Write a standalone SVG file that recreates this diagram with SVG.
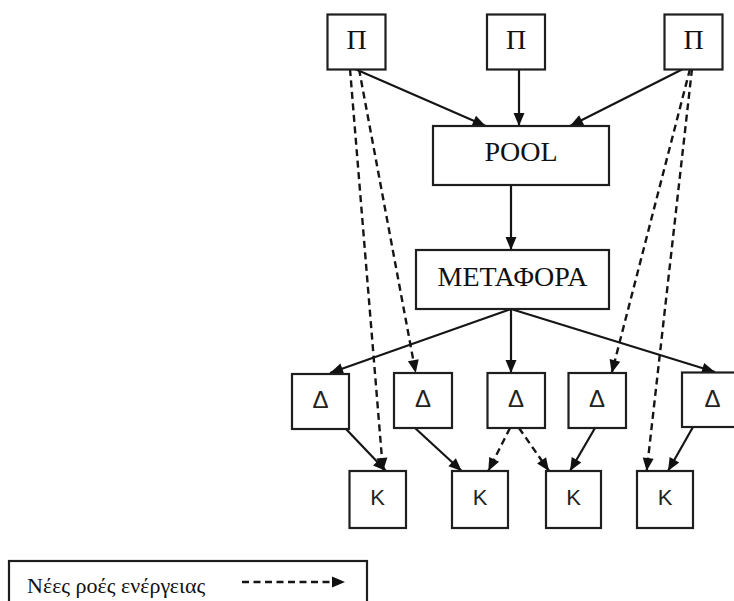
<svg xmlns="http://www.w3.org/2000/svg" width="734" height="601" viewBox="0 0 734 601">
  <style>
    .box { fill: #ffffff; stroke: #1e1e1e; stroke-width: 2.2; }
    .serif { font-family: "Liberation Serif", "Times New Roman", serif; fill: #111; text-anchor: middle; }
    .sans { font-family: "Liberation Sans", Arial, sans-serif; fill: #222; text-anchor: middle; }
    .flow { fill: none; stroke: #151515; stroke-width: 2.2; marker-end: url(#head); }
    .dash { stroke-dasharray: 7 4.5; stroke-width: 2.4; }
  </style>
  <defs>
    <marker id="head" markerUnits="userSpaceOnUse" markerWidth="14" markerHeight="12" refX="13" refY="5.5" orient="auto" overflow="visible">
      <path d="M0,0 L13,5.5 L0,11 Z" fill="#111"/>
    </marker>
  </defs>

  <rect width="734" height="601" fill="#ffffff"/>

  <!-- connectors -->
  <g id="connectors">
    <!-- producers into the pool -->
    <line class="flow" x1="355" y1="69" x2="485.7" y2="126"/>
    <line class="flow" x1="519" y1="69" x2="519" y2="126"/>
    <line class="flow" x1="683" y1="69" x2="570" y2="126"/>
    <!-- pool to transmission -->
    <line class="flow" x1="511" y1="185" x2="511" y2="250"/>
    <!-- transmission to distributors -->
    <line class="flow" x1="511" y1="309" x2="330" y2="373"/>
    <line class="flow" x1="511" y1="309" x2="511" y2="373"/>
    <line class="flow" x1="511" y1="309" x2="715" y2="372"/>
    <!-- distributors to consumers -->
    <line class="flow" x1="346" y1="429" x2="386" y2="471"/>
    <line class="flow" x1="415" y1="428" x2="461.7" y2="471"/>
    <line class="flow" x1="595" y1="428" x2="570" y2="471"/>
    <line class="flow" x1="693" y1="427" x2="668" y2="471"/>
    <!-- new energy flows -->
    <line class="flow dash" x1="350" y1="69" x2="383" y2="471"/>
    <line class="flow dash" x1="359" y1="69" x2="415.7" y2="373"/>
    <line class="flow dash" x1="690" y1="69" x2="611.7" y2="373"/>
    <line class="flow dash" x1="692" y1="69" x2="646.7" y2="471"/>
    <line class="flow dash" x1="510" y1="428" x2="488.3" y2="471"/>
    <line class="flow dash" x1="519" y1="428" x2="549" y2="471"/>
  </g>

  <!-- producers -->
  <g id="p1"><rect class="box" x="327.5" y="14.5" width="58" height="55"/><text class="serif" x="356.5" y="49" font-size="28">Π</text></g>
  <g id="p2"><rect class="box" x="487" y="14.5" width="58" height="55"/><text class="serif" x="516" y="49" font-size="28">Π</text></g>
  <g id="p3"><rect class="box" x="664.5" y="14.5" width="58" height="55"/><text class="serif" x="693.5" y="49" font-size="28">Π</text></g>

  <!-- pool -->
  <g id="pool"><rect class="box" x="433" y="126" width="176" height="59"/><text class="serif" x="521" y="161" font-size="28">POOL</text></g>

  <!-- transmission -->
  <g id="metafora"><rect class="box" x="416" y="250" width="193" height="59"/><text class="serif" x="512.5" y="285.5" font-size="28">ΜΕΤΑΦΟΡΑ</text></g>

  <!-- distributors -->
  <g id="d1"><rect class="box" x="292" y="374" width="57" height="55"/><text class="sans" x="320.5" y="407.5" font-size="24">Δ</text></g>
  <g id="d2"><rect class="box" x="394" y="373" width="58" height="55"/><text class="sans" x="423" y="406.5" font-size="24">Δ</text></g>
  <g id="d3"><rect class="box" x="487.5" y="373" width="57.5" height="55"/><text class="sans" x="516" y="406.5" font-size="24">Δ</text></g>
  <g id="d4"><rect class="box" x="568.5" y="373" width="57.5" height="55"/><text class="sans" x="597" y="406.5" font-size="24">Δ</text></g>
  <g id="d5"><rect class="box" x="682" y="372.5" width="58" height="54.5"/><text class="sans" x="712.5" y="406.5" font-size="24">Δ</text></g>

  <!-- consumers -->
  <g id="k1"><rect class="box" x="349.5" y="471" width="56.5" height="57"/><text class="sans" x="377.7" y="504.5" font-size="22">Κ</text></g>
  <g id="k2"><rect class="box" x="452" y="471" width="56" height="57"/><text class="sans" x="480" y="504.5" font-size="22">Κ</text></g>
  <g id="k3"><rect class="box" x="546" y="471" width="55" height="57"/><text class="sans" x="573.5" y="504.5" font-size="22">Κ</text></g>
  <g id="k4"><rect class="box" x="637" y="471" width="56" height="57"/><text class="sans" x="665" y="504.5" font-size="22">Κ</text></g>

  <!-- legend -->
  <g id="legend">
    <rect class="box" x="9" y="561" width="358" height="60"/>
    <text x="27" y="593" font-family="'Liberation Serif', 'Times New Roman', serif" font-size="22" fill="#111">Νέες ροές ενέργειας</text>
    <line class="flow dash" x1="242" y1="582" x2="345" y2="582"/>
  </g>
</svg>
